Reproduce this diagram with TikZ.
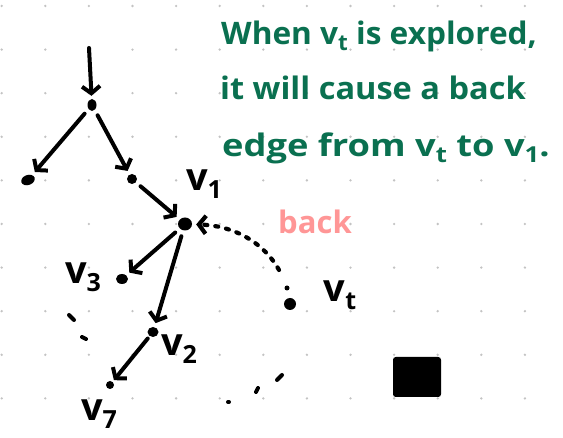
\documentclass[tikz,border=0pt]{standalone}
\usepackage{fontspec}
\setmainfont{Open Sans}
\usetikzlibrary{arrows.meta,shapes.geometric}
\definecolor{grn}{RGB}{10,112,80}
\definecolor{pnk}{RGB}{255,150,150}
\definecolor{griddot}{RGB}{195,195,195}
\newcommand\vlab[1]{{\fontsize{38}{38}\selectfont v}\raisebox{-8pt}{\fontsize{25}{25}\selectfont #1}}
\newcommand\gsub[1]{\raisebox{-6pt}{\fontsize{22}{22}\selectfont #1}}
\begin{document}
\begin{tikzpicture}[x=1pt,y=-1pt,
  dotn/.style={ellipse, fill=black, inner sep=0pt},
  arr/.style={line width=4pt, line cap=round, line join=round,
    -{Straight Barb[length=7pt,width=18pt]}, shorten <=6pt, shorten >=4pt},
  backedge/.style={line width=4.2pt, line cap=round, dash pattern=on 3pt off 8pt,
    -{Straight Barb[length=7pt,width=18pt]}, shorten >=4pt},
  lbl/.style={inner sep=0pt, text=black, font=\bfseries},
  gtext/.style={inner sep=0pt, text=grn, font=\bfseries\fontsize{31}{31}\selectfont},
  tick/.style={line width=4pt, line cap=round}]
\useasboundingbox (0,0) rectangle (563,438);
\fill[white] (0,0) rectangle (563,438);
\foreach \i in {0,...,12}
  \foreach \j in {0,...,9}
    \fill[griddot] (1.7+43.6*\i, 6+43.6*\j) circle (1.3pt);

% nodes
\node[dotn, minimum width=9pt, minimum height=12pt] (a) at (92,105) {};
\node[dotn, minimum width=14pt, minimum height=10pt, rotate=20] (c) at (28,180) {};
\node[dotn, minimum width=10pt, minimum height=10pt] (b) at (132,179) {};
\node[dotn, minimum width=14pt, minimum height=13pt] (v1) at (185,224) {};
\node[dotn, minimum width=12pt, minimum height=10pt] (v3) at (122,279) {};
\node[dotn, minimum width=11pt, minimum height=10pt] (v2) at (153,332) {};
\node[dotn, minimum width=8pt, minimum height=8pt] (v7) at (110,385) {};
\node[dotn, minimum width=12pt, minimum height=12pt] (vt) at (290,304) {};
\node[dotn, minimum width=5pt, minimum height=5pt] (vts) at (287,288) {};
\coordinate (top) at (89,48);
\coordinate (bstart) at (279,270);

% tree edges
\draw[arr, shorten <=0pt, shorten >=3pt] (top) -- (a);
\draw[arr] (a) -- (c);
\draw[arr] (a) -- (b);
\draw[arr] (b) -- (v1);
\draw[arr] (v1) -- (v3);
\draw[arr] (v1) -- (v2);
\draw[arr, shorten <=3pt, shorten >=2pt] (v2) -- (v7);

% back edge
\draw[backedge] (bstart) .. controls (266,246) and (238,226) .. (v1);

% ellipsis marks
\coordinate (e1a) at (69,315); \coordinate (e1b) at (74,320);
\coordinate (e2a) at (82,337); \coordinate (e2b) at (86,339);
\coordinate (e3a) at (228,402); \coordinate (e3b) at (229,402);
\coordinate (e4a) at (256,392); \coordinate (e4b) at (258,388);
\coordinate (e5a) at (277,380); \coordinate (e5b) at (282,375);
\draw[tick] (e1a) -- (e1b);
\draw[tick] (e2a) -- (e2b);
\draw[tick] (e3a) -- (e3b);
\draw[tick] (e4a) -- (e4b);
\draw[tick] (e5a) -- (e5b);

% labels
\node[lbl] (l1) at (204,184) {\vlab{1}};
\node[lbl] (l3) at (83,277) {\vlab{3}};
\node[lbl] (l2) at (179,349) {\vlab{2}};
\node[lbl] (l7) at (99,414) {\vlab{7}};
\node[lbl] (lt) at (340,295) {\vlab{t}};

\node[inner sep=0pt, text=pnk, font=\bfseries\fontsize{31}{31}\selectfont] (bk) at (315,222) {back};

% square
\node[fill=black, draw=black, line width=2pt, rounded corners=2pt,
  minimum width=46pt, minimum height=38pt, inner sep=0pt] (sq) at (417,377) {};

% green note
\node[gtext, anchor=base west] (t1) at (221,45) {\scalebox{1.02}[1]{When v\gsub{t} is explored,}};
\node[gtext, anchor=base west] (t2) at (220,100) {\scalebox{1.05}[1]{it will cause a back}};
\node[gtext, anchor=base west] (t3) at (222,157) {\scalebox{1.17}[1]{edge from v\gsub{t} to v\gsub{1}.}};
\end{tikzpicture}
\end{document}
